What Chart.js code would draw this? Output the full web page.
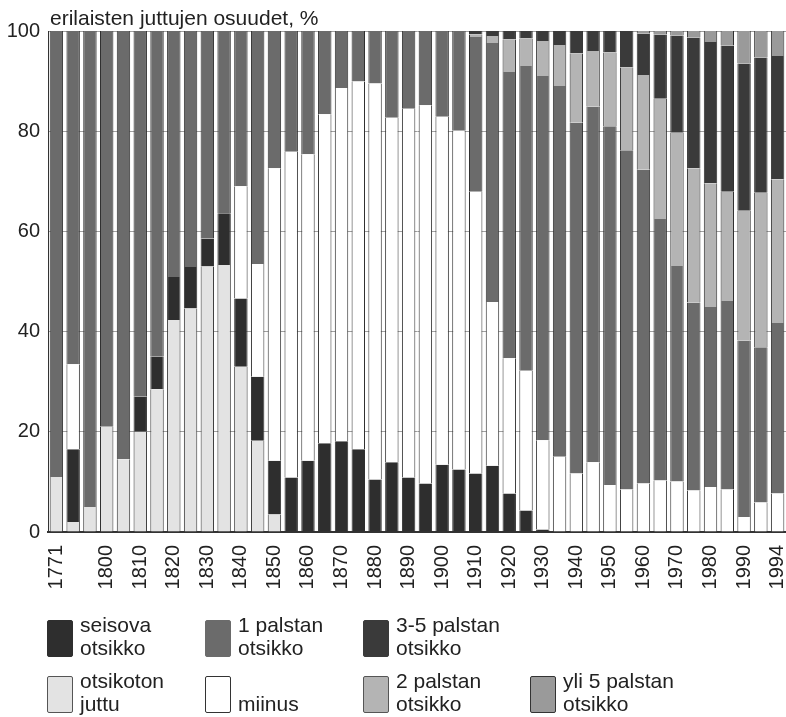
<!DOCTYPE html>
<html>
<head>
<meta charset="utf-8">
<script src="https://cdn.jsdelivr.net/npm/chart.js@4/dist/chart.umd.min.js"></script>
<style>
  html, body { margin: 0; padding: 0; background: #ffffff; }
  #wrap { position: absolute; left: 0; top: 0; width: 786px; height: 600px; }
  #legend { position: absolute; left: 0; top: 0; width: 786px; height: 717px; pointer-events: none;
            font-family: "Liberation Sans", Arial, sans-serif; font-size: 21px; line-height: 23px; color: #222; }
  .lg-box { position: absolute; width: 26px; height: 37px; box-sizing: border-box; border-radius: 2px; }
  .lg-text { position: absolute; white-space: nowrap; }
</style>
</head>
<body>
<div id="wrap"><canvas id="c"></canvas></div>
<div id="legend"></div>
<script>
// ---- data ----
const years = ['1771','1780','1790','1800','1805','1810','1815','1820','1825','1830','1835','1840','1845','1850','1855','1860','1865','1870','1875','1880','1885','1890','1895','1900','1905','1910','1915','1920','1925','1930','1935','1940','1945','1950','1955','1960','1965','1970','1975','1980','1985','1990','1992','1994'];
const shownTicks = ['1771','1800','1810','1820','1830','1840','1850','1860','1870','1880','1890','1900','1910','1920','1930','1940','1950','1960','1970','1980','1990','1994'];
const yTicks = [0, 20, 40, 60, 80, 100];
const axisTitle = 'erilaisten juttujen osuudet, %';

const otsikoton = [11,2,5,21,14.5,20,28.5,42.3,44.6,53,53.3,33,18.2,3.5,0,0,0,0,0,0,0,0,0,0,0,0,0,0,0,0,0,0,0,0,0,0,0,0,0,0,0,0,0,0];
const seisova   = [0,14.5,0,0,0,7,6.5,8.6,8.3,5.6,10.3,13.6,12.8,10.7,10.9,14.2,17.7,18.1,16.5,10.5,13.9,10.9,9.7,13.4,12.5,11.7,13.2,7.7,4.3,0.5,0,0,0,0,0,0,0,0,0,0,0,0,0,0];
const miinus    = [0,17,0,0,0,0,0,0,0,0,0,22.4,22.5,58.4,65,61.2,65.7,70.5,73.4,79,68.8,73.6,75.5,69.5,67.6,56.2,32.7,27,27.9,17.8,15,11.7,13.9,9.4,8.5,9.7,10.3,10.1,8.3,9,8.5,3,5.9,7.7];
const palsta1   = [89,66.5,95,79,85.5,73,65,49.1,47.1,41.4,36.4,31,46.5,27.4,24.1,24.6,16.6,11.4,10.1,10.5,17.3,15.5,14.8,17.1,19.9,30.9,51.7,57.1,60.8,72.7,74,70,71,71.6,67.7,62.6,52.2,43,37.5,35.9,37.6,35.2,31,34];
const palsta2   = [0,0,0,0,0,0,0,0,0,0,0,0,0,0,0,0,0,0,0,0,0,0,0,0,0,0.5,1.4,6.5,5.5,7,8.2,13.8,11.1,14.7,16.5,18.9,24,26.6,26.8,24.7,21.8,25.9,30.8,28.7];
const palsta35  = [0,0,0,0,0,0,0,0,0,0,0,0,0,0,0,0,0,0,0,0,0,0,0,0,0,0.7,1,1.7,1.5,2,2.8,4.5,4,4.3,7.3,8.3,12.8,19.4,26.1,28.2,29.2,29.4,27,24.6];
const yli5      = [0,0,0,0,0,0,0,0,0,0,0,0,0,0,0,0,0,0,0,0,0,0,0,0,0,0,0,0,0,0,0,0,0,0,0,0.5,0.7,0.9,1.3,2.2,2.9,6.5,5.3,5];

// series names (two legend lines each), bottom-to-top stacking order
const seriesNames = [
  ['otsikoton','juttu'],
  ['seisova','otsikko'],
  ['', 'miinus'],
  ['1 palstan','otsikko'],
  ['2 palstan','otsikko'],
  ['3-5 palstan','otsikko'],
  ['yli 5 palstan','otsikko']
];
const seriesValues = [otsikoton, seisova, miinus, palsta1, palsta2, palsta35, yli5];

// ---- styling ----
const seriesColors = ['#e3e3e3','#2e2e2e','#ffffff','#6b6b6b','#b4b4b4','#3a3a3a','#9a9a9a'];
const legendBorder = ['#555','#2e2e2e','#333','#6b6b6b','#555','#3a3a3a','#333'];
// legend slots: [boxLeft, boxTop]
const legendPos = [[47,676],[47,620],[205,676],[205,620],[363,676],[363,620],[530,676]];

const FONT = '"Liberation Sans", Arial, Helvetica, sans-serif';
Chart.defaults.font.family = FONT;
Chart.defaults.color = '#222';

const titlePlugin = {
  id: 'axisTitle',
  afterDraw(chart) {
    const ctx = chart.ctx;
    ctx.save();
    ctx.font = '21px ' + FONT;
    ctx.fillStyle = '#222';
    ctx.textAlign = 'left';
    ctx.textBaseline = 'alphabetic';
    ctx.fillText(axisTitle, chart.chartArea.left + 2, 25);
    ctx.restore();
  }
};

new Chart(document.getElementById('c'), {
  type: 'bar',
  data: {
    labels: years,
    datasets: seriesValues.map((vals, i) => ({
      label: seriesNames[i].join(' ').trim(),
      data: vals,
      backgroundColor: seriesColors[i],
      borderColor: '#303030',
      borderWidth: {left: 1, right: 1, top: 0, bottom: 0},
      borderSkipped: false,
      stack: 's',
      barPercentage: 0.8,
      categoryPercentage: 1.0
    }))
  },
  options: {
    responsive: true,
    maintainAspectRatio: false,
    animation: false,
    layout: { padding: { top: 31, right: 0, left: 0, bottom: 0 } },
    plugins: { legend: { display: false }, tooltip: { enabled: false }, title: { display: false } },
    scales: {
      x: {
        stacked: true,
        grid: { display: false, drawTicks: false },
        border: { display: true, color: '#333', width: 2 },
        ticks: {
          autoSkip: false, minRotation: 90, maxRotation: 90, padding: 13,
          font: { size: 20 }, color: '#222',
          callback: function (v) { const l = this.getLabelForValue(v); return shownTicks.includes(l) ? l : ''; }
        },
        afterFit(scale) { scale.height = 68; scale.paddingRight = 0; scale.paddingLeft = 0; }
      },
      y: {
        stacked: true, min: 0, max: 100,
        grid: { color: '#a0a0a0', lineWidth: 1, drawTicks: false },
        border: { display: true, color: '#333', width: 1 },
        ticks: { stepSize: 20, padding: 8, font: { size: 20 }, color: '#222' },
        afterBuildTicks(scale) { scale.ticks = yTicks.map(v => ({ value: v })); },
        afterFit(scale) { scale.width = 48; }
      }
    }
  },
  plugins: [titlePlugin]
});

// ---- HTML legend built from the series arrays ----
const lg = document.getElementById('legend');
const order = [1, 3, 5, 0, 2, 4, 6];
order.forEach(i => {
  const [bx, by] = legendPos[i];
  const box = document.createElement('div');
  box.className = 'lg-box';
  box.style.left = bx + 'px';
  box.style.top = by + 'px';
  box.style.background = seriesColors[i];
  box.style.border = '1px solid ' + legendBorder[i];
  lg.appendChild(box);
  const t = document.createElement('div');
  t.className = 'lg-text';
  t.style.left = (bx + 33) + 'px';
  t.style.top = (by - 7) + 'px';
  t.innerHTML = (seriesNames[i][0] || '&nbsp;') + '<br>' + seriesNames[i][1];
  lg.appendChild(t);
});
</script>
</body>
</html>
